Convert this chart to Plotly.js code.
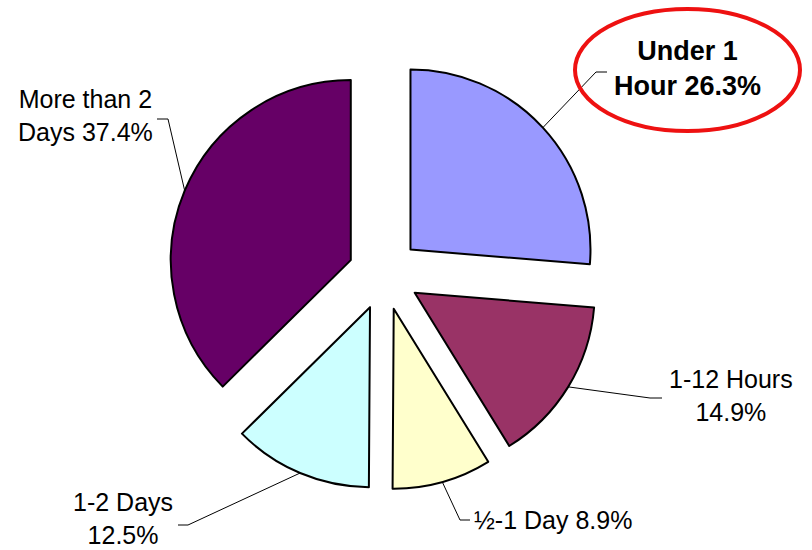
<!DOCTYPE html>
<html><head><meta charset="utf-8">
<script src="https://cdn.plot.ly/plotly-3.0.1.min.js"></script>
<style>html,body{margin:0;padding:0;background:#fff}#chart{width:812px;height:550px}</style>
</head><body><div id="chart"></div>
<script>
// ---- data ----
const categories = ["Under 1 Hour", "1-12 Hours", "\u00bd-1 Day", "1-2 Days", "More than 2 Days"];
const shares = [26.3, 14.9, 8.9, 12.5, 37.4];
const labelTexts = ["<b>Under 1<br>Hour 26.3%</b>", "1-12 Hours<br>14.9%", "\u00bd-1 Day 8.9%", "1-2 Days<br>12.5%", "More than 2<br>Days 37.4%"];
const sliceColors = ["#9999FF", "#993366", "#FFFFCC", "#CCFFFF", "#660066"];

// ---- layout constants (pixels) ----
const W = 812, H = 550;
const CX = 384, CY = 274, R = 180, PULL = 0.2;
const half = R * (1 + PULL);
// label placement: elbow start (ex,ey), elbow end (tx,ey), text anchor
const labelPos = [
  {ex: 596, tx: 607, ey: 72, x: 687, y: 68, size: 27},
  {ex: 650, tx: 662, ey: 398, x: 731, y: 395, size: 25},
  {ex: 460, tx: 470, ey: 520, x: 553, y: 520, size: 25},
  {ex: 188, tx: 178, ey: 525, x: 123, y: 518, size: 25},
  {ex: 168, tx: 157, ey: 119, x: 85, y: 115, size: 25}
];
const px = x => x / W, py = y => 1 - y / H;

const total = shares.reduce((a, b) => a + b, 0);
let cum = 0;
const shapes = [], annotations = [];
shares.forEach((v, i) => {
  const mid = (cum + v / 2) / total * 2 * Math.PI;
  cum += v;
  const dx = Math.sin(mid), dy = -Math.cos(mid);
  const ox = CX + dx * PULL * R, oy = CY + dy * PULL * R;
  const ax = ox + dx * R, ay = oy + dy * R;
  const L = labelPos[i];
  shapes.push({type: 'path', xref: 'paper', yref: 'paper',
    path: `M${px(ax)},${py(ay)} L${px(L.ex)},${py(L.ey)} L${px(L.tx)},${py(L.ey)}`,
    line: {color: '#000', width: 1}});
  annotations.push({xref: 'paper', yref: 'paper', x: px(L.x), y: py(L.y),
    xanchor: 'center', yanchor: 'middle', align: 'center', showarrow: false,
    text: labelTexts[i],
    font: {family: 'Liberation Sans, Arial, sans-serif', size: L.size, color: '#000'}});
});
// red highlight ellipse
shapes.push({type: 'circle', xref: 'paper', yref: 'paper',
  x0: px(575), x1: px(800), y0: py(131), y1: py(9),
  line: {color: '#EE1111', width: 4}});

const trace = {
  type: 'pie', values: shares, labels: categories, sort: false,
  direction: 'clockwise', rotation: 0, pull: PULL,
  marker: {colors: sliceColors, line: {color: '#000', width: 2}},
  textinfo: 'none', hoverinfo: 'label+percent', showlegend: false,
  domain: {x: [px(CX - half), px(CX + half)], y: [py(CY + half), py(CY - half)]}
};
const layout = {width: W, height: H, margin: {l: 0, r: 0, t: 0, b: 0},
  paper_bgcolor: '#fff', showlegend: false, shapes, annotations};
Plotly.newPlot('chart', [trace], layout, {displayModeBar: false, staticPlot: true});
</script></body></html>
